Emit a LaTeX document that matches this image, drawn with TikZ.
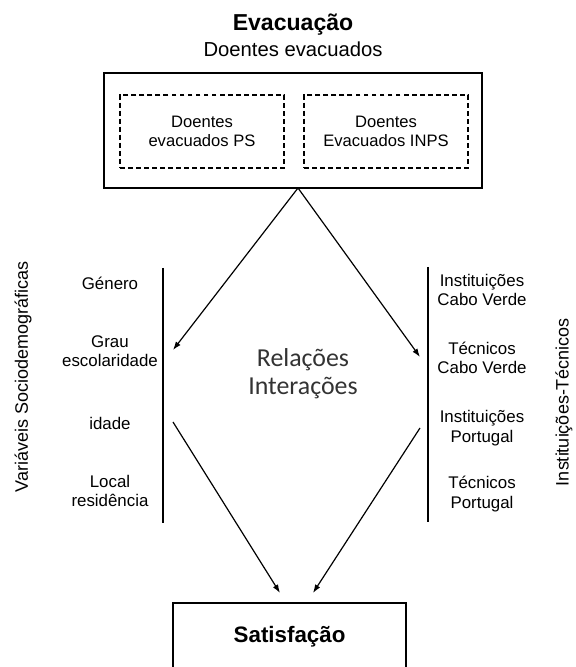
\documentclass[tikz,border=0pt]{standalone}
\usepackage{fontspec}
\setmainfont{Liberation Sans}
\newfontfamily\calibrifont{Carlito}
\usetikzlibrary{arrows.meta}
\usetikzlibrary{positioning}

\tikzset{
  lbl/.style={align=center, inner sep=0pt, font=\fontsize{12}{13.9}\selectfont},
  sidelbl/.style={rotate=90, inner sep=0pt, font=\fontsize{12.8}{14}\selectfont},
  bigbox/.style={draw, line width=1pt, inner sep=0pt},
  dashbox/.style={draw, line width=0.8pt, dash pattern=on 3.5pt off 2.2pt, align=center,
    inner sep=0pt, minimum width=4.1cm, minimum height=1.825cm,
    font=\fontsize{11.8}{13.5}\selectfont},
  bar/.style={line width=1pt},
  arr/.style={line width=0.85pt, -{Latex[length=6pt,width=4.2pt]}}
}

\begin{document}
\begin{tikzpicture}
    \clip (0, 0) rectangle (14.4, 16.675);

    \node [inner sep=0pt, font=\bfseries\fontsize{16.4}{18}\selectfont] (evac) at (7.325, 16.05) {Evacuação};
    \node [inner sep=0pt, font=\fontsize{14.4}{16}\selectfont] (doentes) at (7.325, 15.45) {Doentes evacuados};

    \node [bigbox, minimum width=9.45cm, minimum height=2.875cm] (outer) at (7.325, 13.4125) {};
    \node [dashbox] (ps) at (5.05, 13.3875) {Doentes\\evacuados PS};
    \node [dashbox] (inps) at (9.65, 13.3875) {Doentes\\Evacuados INPS};

    \node [sidelbl] (sociodem) at (0.58, 7.25) {Variáveis Sociodemográficas};
    \node [lbl] (genero) at (2.75, 9.6) {Género};
    \node [lbl] (grau) at (2.75, 7.9) {Grau\\escolaridade};
    \node [lbl] (idade) at (2.75, 6.1) {idade};
    \node [lbl] (local) at (2.75, 4.4) {Local\\residência};

    \node [sidelbl] (insttec) at (14.1, 6.625) {Instituições-Técnicos};
    \node [lbl] (instcv) at (12.05, 9.425) {Instituições\\Cabo Verde};
    \node [lbl] (teccv) at (12.05, 7.725) {Técnicos\\Cabo Verde};
    \node [lbl] (instpt) at (12.05, 5.975) {Instituições\\Portugal};
    \node [lbl] (tecpt) at (12.05, 4.325) {Técnicos\\Portugal};

    \node [align=center, inner sep=0pt, text=black!80, font=\calibrifont\fontsize{18.4}{20}\selectfont]
      (relacoes) at (7.575, 7.325) {Relações\\Interações};

    \node [bigbox, minimum width=5.825cm, minimum height=1.7cm,
      font=\bfseries\fontsize{15.9}{18}\selectfont] (satisf) at (7.24, 0.75) {Satisfação};

    \coordinate (ltop) at (4.075, 9.975);
    \coordinate (lbot) at (4.075, 3.6);
    \coordinate (rtop) at (10.7, 10.0);
    \coordinate (rbot) at (10.7, 3.625);
    \draw [bar] (ltop) -- (lbot);
    \draw [bar] (rtop) -- (rbot);

    \coordinate (apex) at (7.45, 11.975);
    \coordinate (lin) at (4.325, 7.925);
    \coordinate (rin) at (10.5, 7.75);
    \coordinate (lout) at (4.325, 6.125);
    \coordinate (rout) at (10.5, 5.975);
    \coordinate (lend) at (7.0, 1.85);
    \coordinate (rend) at (7.825, 1.85);

    \draw [arr] (apex) -- (lin);
    \draw [arr] (apex) -- (rin);
    \draw [arr] (lout) -- (lend);
    \draw [arr] (rout) -- (rend);
\end{tikzpicture}
\end{document}
